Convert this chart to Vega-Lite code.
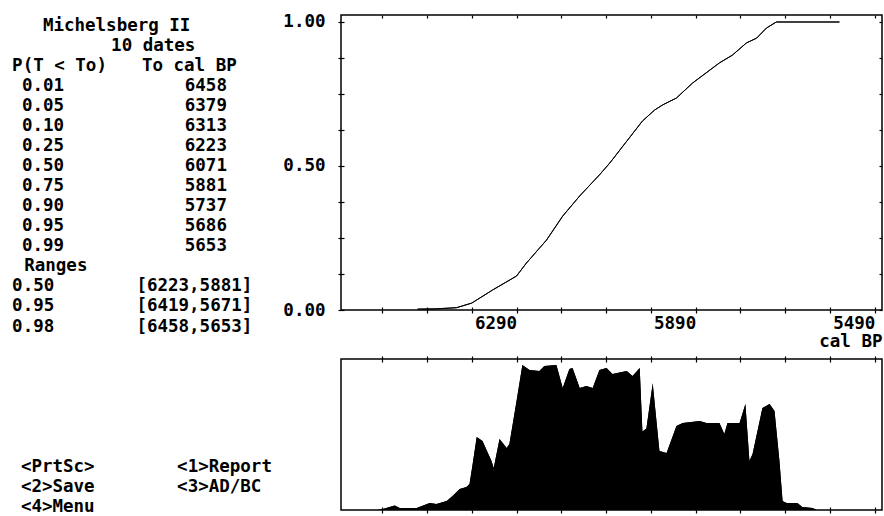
{
  "$schema": "https://vega.github.io/schema/vega-lite/v6.json",
  "padding": {"left": 0, "top": 12, "right": 0, "bottom": 0},
  "background": "white",
  "spacing": 2,
  "config": {
    "font": "DejaVu Sans Mono",
    "axis": {
      "labelFont": "DejaVu Sans Mono", "labelFontWeight": "bold", "labelFontSize": 17.5, "labelColor": "black",
      "tickColor": "black", "tickWidth": 1.2, "domain": false, "grid": false,
      "titleFont": "DejaVu Sans Mono", "titleFontWeight": "bold", "titleFontSize": 17.5, "titleColor": "black"
    }
  },
  "datasets": {
    "screen": [
      {"text": "Michelsberg II", "col": 3.9, "line": 0},
      {"text": "10 dates", "col": 10.1, "line": 1},
      {"text": "P(T < To)", "col": 1.1, "line": 2},
      {"text": "To cal BP", "col": 12.9, "line": 2},
      {"text": "0.01", "col": 2.0, "line": 3}, {"text": "6458", "col": 16.8, "line": 3},
      {"text": "0.05", "col": 2.0, "line": 4}, {"text": "6379", "col": 16.8, "line": 4},
      {"text": "0.10", "col": 2.0, "line": 5}, {"text": "6313", "col": 16.8, "line": 5},
      {"text": "0.25", "col": 2.0, "line": 6}, {"text": "6223", "col": 16.8, "line": 6},
      {"text": "0.50", "col": 2.0, "line": 7}, {"text": "6071", "col": 16.8, "line": 7},
      {"text": "0.75", "col": 2.0, "line": 8}, {"text": "5881", "col": 16.8, "line": 8},
      {"text": "0.90", "col": 2.0, "line": 9}, {"text": "5737", "col": 16.8, "line": 9},
      {"text": "0.95", "col": 2.0, "line": 10}, {"text": "5686", "col": 16.8, "line": 10},
      {"text": "0.99", "col": 2.0, "line": 11}, {"text": "5653", "col": 16.8, "line": 11},
      {"text": "Ranges", "col": 2.2, "line": 12},
      {"text": "0.50", "col": 1.1, "line": 13}, {"text": "[6223,5881]", "col": 12.4, "line": 13},
      {"text": "0.95", "col": 1.1, "line": 14}, {"text": "[6419,5671]", "col": 12.4, "line": 14},
      {"text": "0.98", "col": 1.1, "line": 15}, {"text": "[6458,5653]", "col": 12.4, "line": 15},
      {"text": "<PrtSc>", "col": 1.9, "line": 22}, {"text": "<1>Report", "col": 16.1, "line": 22},
      {"text": "<2>Save", "col": 1.9, "line": 23}, {"text": "<3>AD/BC", "col": 16.1, "line": 23},
      {"text": "<4>Menu", "col": 1.9, "line": 24}
    ],
    "cumulative": [
      {"year": 6511, "p": 0.003}, {"year": 6470, "p": 0.004}, {"year": 6424, "p": 0.008},
      {"year": 6390, "p": 0.024}, {"year": 6344, "p": 0.069}, {"year": 6290, "p": 0.118},
      {"year": 6268, "p": 0.163}, {"year": 6223, "p": 0.243}, {"year": 6187, "p": 0.326},
      {"year": 6149, "p": 0.396}, {"year": 6105, "p": 0.469}, {"year": 6082, "p": 0.51},
      {"year": 6009, "p": 0.656}, {"year": 5982, "p": 0.694}, {"year": 5964, "p": 0.712},
      {"year": 5933, "p": 0.736}, {"year": 5897, "p": 0.788}, {"year": 5837, "p": 0.858},
      {"year": 5808, "p": 0.885}, {"year": 5777, "p": 0.927}, {"year": 5754, "p": 0.944},
      {"year": 5732, "p": 0.979}, {"year": 5710, "p": 1.0}, {"year": 5569, "p": 1.0}
    ],
    "density": [
      {"year": 6600, "prob": 0.0}, {"year": 6589, "prob": 0.007}, {"year": 6562, "prob": 0.03},
      {"year": 6551, "prob": 0.013}, {"year": 6513, "prob": 0.013}, {"year": 6484, "prob": 0.046},
      {"year": 6469, "prob": 0.04}, {"year": 6446, "prob": 0.06}, {"year": 6433, "prob": 0.093},
      {"year": 6417, "prob": 0.139}, {"year": 6402, "prob": 0.152}, {"year": 6395, "prob": 0.172},
      {"year": 6388, "prob": 0.305}, {"year": 6379, "prob": 0.483}, {"year": 6366, "prob": 0.457},
      {"year": 6346, "prob": 0.325}, {"year": 6341, "prob": 0.278}, {"year": 6328, "prob": 0.47},
      {"year": 6312, "prob": 0.411}, {"year": 6306, "prob": 0.437}, {"year": 6290, "prob": 0.722},
      {"year": 6277, "prob": 0.96}, {"year": 6261, "prob": 0.927}, {"year": 6239, "prob": 0.92},
      {"year": 6228, "prob": 0.954}, {"year": 6201, "prob": 0.96}, {"year": 6187, "prob": 0.808},
      {"year": 6172, "prob": 0.934}, {"year": 6165, "prob": 0.94}, {"year": 6149, "prob": 0.808},
      {"year": 6134, "prob": 0.821}, {"year": 6120, "prob": 0.808}, {"year": 6105, "prob": 0.927},
      {"year": 6089, "prob": 0.94}, {"year": 6076, "prob": 0.901}, {"year": 6044, "prob": 0.921},
      {"year": 6031, "prob": 0.887}, {"year": 6015, "prob": 0.94}, {"year": 6009, "prob": 0.52},
      {"year": 6000, "prob": 0.54}, {"year": 5986, "prob": 0.84}, {"year": 5971, "prob": 0.391},
      {"year": 5955, "prob": 0.377}, {"year": 5933, "prob": 0.556}, {"year": 5919, "prob": 0.576},
      {"year": 5881, "prob": 0.589}, {"year": 5866, "prob": 0.576}, {"year": 5837, "prob": 0.576},
      {"year": 5826, "prob": 0.503}, {"year": 5819, "prob": 0.576}, {"year": 5792, "prob": 0.576},
      {"year": 5779, "prob": 0.702}, {"year": 5770, "prob": 0.325}, {"year": 5763, "prob": 0.371},
      {"year": 5741, "prob": 0.675}, {"year": 5725, "prob": 0.702}, {"year": 5714, "prob": 0.656},
      {"year": 5703, "prob": 0.325}, {"year": 5696, "prob": 0.06}, {"year": 5687, "prob": 0.046},
      {"year": 5663, "prob": 0.046}, {"year": 5652, "prob": 0.02}, {"year": 5629, "prob": 0.013},
      {"year": 5620, "prob": 0.0}
    ]
  },
  "hconcat": [
    {
      "width": 280, "height": 500,
      "view": {"stroke": null},
      "data": {"name": "screen"},
      "mark": {"type": "text", "align": "left", "baseline": "middle", "font": "DejaVu Sans Mono", "fontWeight": "bold", "fontSize": 17.5, "color": "black"},
      "encoding": {
        "x": {"field": "col", "type": "quantitative", "scale": {"domain": [0, 25.4545], "nice": false, "zero": false}, "axis": null},
        "y": {"field": "line", "type": "quantitative", "scale": {"domain": [-0.534, 24.4], "nice": false, "zero": false, "reverse": true}, "axis": null},
        "text": {"field": "text"}
      }
    },
    {
      "spacing": 3,
      "vconcat": [
        {
          "width": 541, "height": 295,
          "view": {"stroke": "black", "strokeWidth": 1.5},
          "data": {"name": "cumulative"},
          "layer": [
            {
              "mark": {"type": "line", "color": "black", "strokeWidth": 1},
              "encoding": {
                "x": {"field": "year", "type": "quantitative",
                  "scale": {"domain": [6682, 5474], "nice": false, "zero": false},
                  "axis": {"orient": "bottom", "values": [6590, 6490, 6390, 6290, 6190, 6090, 5990, 5890, 5790, 5690, 5590, 5490],
                    "offset": -3, "tickSize": 6, "labelPadding": 1, "labelAlign": "right", "labelDx": 9,
                    "labelFlush": false, "labelOverlap": false, "labelBound": false,
                    "labelExpr": "(datum.value == 6290 || datum.value == 5890 || datum.value == 5490) ? format(datum.value, 'd') : ''",
                    "title": "cal BP", "titleAnchor": "end", "titleAlign": "right", "titlePadding": 1}},
                "y": {"field": "p", "type": "quantitative",
                  "scale": {"domain": [0, 1.0243], "nice": false, "zero": false},
                  "axis": {"orient": "left", "values": [0, 0.125, 0.25, 0.375, 0.5, 0.625, 0.75, 0.875, 1],
                    "offset": -3, "tickSize": 6, "labelPadding": 13, "labelOverlap": false, "labelFlush": false,
                    "labelExpr": "(datum.value == 0 || datum.value == 0.5 || datum.value == 1) ? format(datum.value, '.2f') : ''",
                    "title": null}}
              }
            },
            {
              "mark": {"type": "line", "color": "black", "strokeWidth": 1},
              "encoding": {
                "x": {"field": "year", "type": "quantitative",
                  "axis": {"orient": "top", "values": [6590, 6490, 6390, 6290, 6190, 6090, 5990, 5890, 5790, 5690, 5590, 5490],
                    "offset": -3, "tickSize": 3, "labels": false, "title": null}},
                "y": {"field": "p", "type": "quantitative",
                  "axis": {"orient": "right", "values": [0, 0.125, 0.25, 0.375, 0.5, 0.625, 0.75, 0.875, 1],
                    "offset": -3, "tickSize": 3, "labels": false, "title": null}}
              }
            }
          ],
          "resolve": {"axis": {"x": "independent", "y": "independent"}}
        },
        {
          "width": 541, "height": 151,
          "view": {"stroke": "black", "strokeWidth": 1.5},
          "data": {"name": "density"},
          "layer": [
            {
              "mark": {"type": "area", "color": "black", "interpolate": "linear"},
              "encoding": {
                "x": {"field": "year", "type": "quantitative",
                  "scale": {"domain": [6682, 5474], "nice": false, "zero": false},
                  "axis": {"orient": "top", "values": [6590, 6490, 6390, 6290, 6190, 6090, 5990, 5890, 5790, 5690, 5590, 5490],
                    "offset": -3, "tickSize": 6, "labels": false, "title": null}},
                "y": {"field": "prob", "type": "quantitative", "stack": null,
                  "scale": {"domain": [0, 1], "nice": false}, "axis": null}
              }
            },
            {
              "mark": {"type": "area", "color": "black", "interpolate": "linear"},
              "encoding": {
                "x": {"field": "year", "type": "quantitative",
                  "axis": {"orient": "bottom", "values": [6590, 6490, 6390, 6290, 6190, 6090, 5990, 5890, 5790, 5690, 5590, 5490],
                    "offset": -3, "tickSize": 6, "labels": false, "title": null}},
                "y": {"field": "prob", "type": "quantitative", "stack": null, "axis": null}
              }
            }
          ],
          "resolve": {"axis": {"x": "independent"}}
        }
      ]
    }
  ]
}
